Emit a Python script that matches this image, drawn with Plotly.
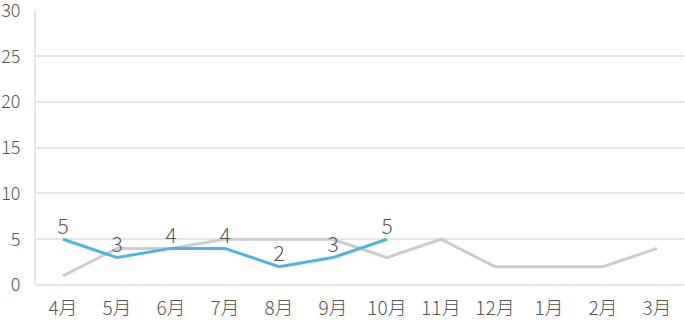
import plotly.graph_objects as go

months = ["4月", "5月", "6月", "7月", "8月", "9月", "10月", "11月", "12月", "1月", "2月", "3月"]
prev_year = [1, 4, 4, 5, 5, 5, 3, 5, 2, 2, 2, 4]
this_year = [5, 3, 4, 4, 2, 3, 5]
y_ticks = [0, 5, 10, 15, 20, 25, 30]

FONT = "Noto Sans CJK JP"
TXT = "#555555"

fig = go.Figure()
fig.add_trace(go.Scatter(
    x=months, y=prev_year, mode="lines",
    line=dict(color="#cccccc", width=3),
    hoverinfo="skip", showlegend=False,
))
fig.add_trace(go.Scatter(
    x=months[:len(this_year)], y=this_year, mode="lines+text",
    text=[str(v) for v in this_year], textposition="top center",
    textfont=dict(family=FONT, size=21, color=TXT, weight=300),
    line=dict(color="#4db5e2", width=3),
    showlegend=False,
))

fig.update_layout(
    template="none",
    width=685, height=323,
    margin=dict(l=36, r=1, t=10, b=38),
    paper_bgcolor="white", plot_bgcolor="white",
    font=dict(family=FONT, color=TXT),
    xaxis=dict(
        type="category", categoryorder="array", categoryarray=months,
        range=[-0.5, 11.5], showgrid=False, zeroline=False, automargin=False,
        showline=False, ticks="", ticklabelstandoff=10,
        ticklabeloverflow="allow",
        tickfont=dict(family=FONT, size=19, color=TXT, weight=300),
    ),
    yaxis=dict(
        range=[0, 30.05], tickvals=y_ticks, showgrid=True, automargin=False,
        gridcolor="#e6e6e6", gridwidth=2, zeroline=True, zerolinecolor="#e6e6e6",
        zerolinewidth=2, showline=True, linecolor="#e6e6e6", linewidth=2,
        ticks="", ticklabelstandoff=10, ticklabeloverflow="allow",
        tickfont=dict(family=FONT, size=18, color=TXT, weight=300),
    ),
)

fig.write_html("out.html")
